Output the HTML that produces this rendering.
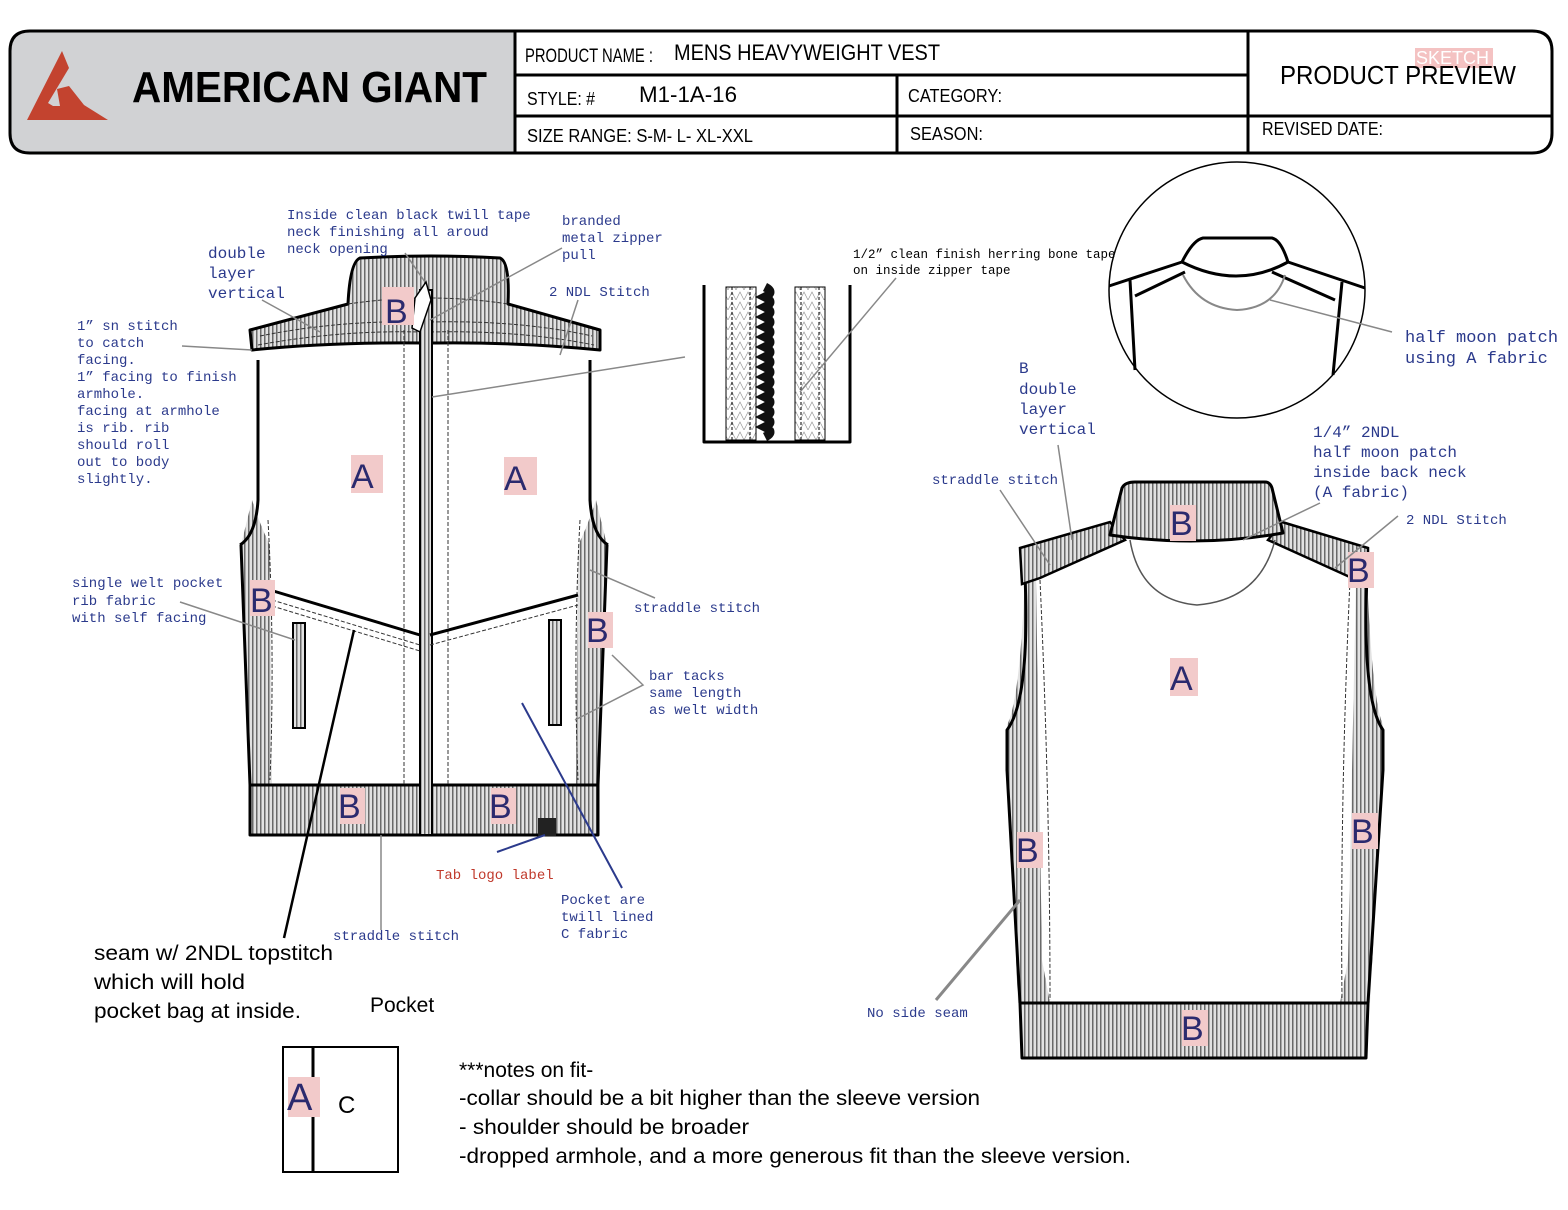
<!DOCTYPE html><html><head><style>
body{margin:0;background:#fff;width:1568px;height:1210px;overflow:hidden}
svg{display:block}
.m{font-family:"Liberation Mono",monospace;fill:#2b3a8c}
.s{font-family:"Liberation Sans",sans-serif;fill:#000}
.L{font-family:"Liberation Sans",sans-serif;fill:#2b2a6e;font-size:34px}
.lb{fill:#f2caca}
.o{stroke:#000;stroke-width:3;stroke-linejoin:round}
.d{fill:none;stroke:#333;stroke-width:1;stroke-dasharray:4 2}
.g{stroke:#888;stroke-width:1.5;fill:none}
</style></head><body>
<svg width="1568" height="1210" viewBox="0 0 1568 1210" font-size="14">
<defs>
<pattern id="r" width="4" height="10" patternUnits="userSpaceOnUse"><rect width="4" height="10" fill="#e2e2e2"/><rect width="1.5" height="10" fill="#6a6a6a"/></pattern>
<pattern id="h" width="8" height="10" patternUnits="userSpaceOnUse"><path d="M0 10 L4 2 L8 10" fill="none" stroke="#999" stroke-width="0.7"/></pattern>
</defs>
<!-- header -->
<path d="M515 31 H30 Q10 31 10 51 V133 Q10 153 30 153 H515 Z" fill="#d1d2d4"/>
<path d="M30 31 H1532 Q1552 31 1552 51 V133 Q1552 153 1532 153 H30 Q10 153 10 133 V51 Q10 31 30 31 Z" fill="none" stroke="#000" stroke-width="3"/>
<path d="M515 31V153 M515 75H1248 M515 116H1552 M897 75V153 M1248 31V153" stroke="#000" stroke-width="3"/>
<polygon points="27,120 62,51 69,68 48,103 53,106 60,106 57,89 69,86 84,105 108,120" fill="#c3432f"/>
<text x="132" y="102" textLength="355" lengthAdjust="spacingAndGlyphs" style="font-family:'Liberation Sans',sans-serif;font-weight:bold;font-size:44px">AMERICAN GIANT</text>
<text class="s" x="525" y="62" font-size="19" textLength="128" lengthAdjust="spacingAndGlyphs">PRODUCT  NAME :</text>
<text class="s" x="674" y="60" font-size="22" textLength="266" lengthAdjust="spacingAndGlyphs">MENS HEAVYWEIGHT VEST</text>
<text class="s" x="527" y="105" font-size="18" textLength="68" lengthAdjust="spacingAndGlyphs">STYLE: #</text>
<text class="s" x="639" y="102" font-size="22" textLength="98" lengthAdjust="spacingAndGlyphs">M1-1A-16</text>
<text class="s" x="527" y="142" font-size="18" textLength="226" lengthAdjust="spacingAndGlyphs">SIZE RANGE: S-M- L- XL-XXL</text>
<text class="s" x="908" y="102" font-size="18" textLength="94" lengthAdjust="spacingAndGlyphs">CATEGORY:</text>
<text class="s" x="910" y="140" font-size="18" textLength="73" lengthAdjust="spacingAndGlyphs">SEASON:</text>
<rect x="1415" y="48" width="78" height="20" fill="#f4c2c2"/>
<text x="1416" y="64" font-size="18" fill="#fff" font-family="Liberation Sans">SKETCH</text>
<text class="s" x="1280" y="84" font-size="26" textLength="236" lengthAdjust="spacingAndGlyphs">PRODUCT PREVIEW</text>
<text class="s" x="1262" y="135" font-size="18" textLength="121" lengthAdjust="spacingAndGlyphs">REVISED DATE:</text>

<!-- front vest -->
<g>
<path d="M252 500 Q262 530 270 545 L272 785 L250 785 L241 545 Z" fill="url(#r)"/>
<path d="M596 500 Q586 530 578 545 L576 785 L598 785 L607 545 Z" fill="url(#r)"/>
<path d="M240 545 Q256 535 258 500 L258 360 M608 545 Q592 535 590 500 L590 360" class="o" fill="none" stroke-width="2.5"/>
<path d="M241 545 L250 785 M607 545 L598 785" class="o" fill="none"/>
<path d="M268 520 Q275 650 270 780 M580 520 Q573 650 578 780" class="d"/>
<path d="M250 330 L348 304 Q350 262 360 258 Q430 254 500 258 Q510 262 508 304 L600 330 L600 350 Q520 342 435 343 L424 343 Q330 342 252 350 Z" fill="url(#r)" class="o"/>
<path d="M348 304 Q430 292 508 304" class="d"/>
<path d="M260 336 Q340 320 420 322 M430 322 Q520 320 592 336" class="d"/>
<path d="M258 345 Q340 330 420 332 M430 332 Q520 330 594 345" class="d"/>
<path d="M250 785 H598 V835 H250 Z" fill="url(#r)" class="o"/>
<rect x="420" y="290" width="12" height="545" fill="url(#r)" stroke="#000" stroke-width="2"/>
<path d="M404 330 V785 M448 330 V785" class="d"/>
<path d="M270 590 L420 635 M430 635 L578 595" class="o" fill="none" stroke-width="3"/>
<path d="M272 600 L420 645 M430 645 L578 605 M272 606 L420 651" class="d"/>
<rect x="293" y="623" width="12" height="105" fill="url(#r)" stroke="#000" stroke-width="2"/>
<rect x="549" y="620" width="12" height="105" fill="url(#r)" stroke="#000" stroke-width="2"/>
<polygon points="415,298 426,282 431,300 420,332 412,328" fill="#fff" stroke="#000" stroke-width="1.5"/>
<rect x="538" y="818" width="18" height="18" fill="#222"/>
</g>
<rect class="lb" x="382" y="287" width="32" height="38"/><text class="L" x="385" y="323">B</text>
<rect class="lb" x="351" y="455" width="32" height="38"/><text class="L" x="351" y="488">A</text>
<rect class="lb" x="504" y="457" width="33" height="38"/><text class="L" x="504" y="490">A</text>
<rect class="lb" x="250" y="580" width="25" height="36"/><text class="L" x="250" y="612">B</text>
<rect class="lb" x="588" y="612" width="25" height="36"/><text class="L" x="586" y="642">B</text>
<rect class="lb" x="340" y="788" width="25" height="36"/><text class="L" x="338" y="818">B</text>
<rect class="lb" x="491" y="788" width="25" height="36"/><text class="L" x="489" y="818">B</text>

<!-- front labels -->
<text class="m" x="287" y="219">Inside clean black twill tape</text>
<text class="m" x="287" y="236">neck finishing all aroud</text>
<text class="m" x="287" y="253">neck opening</text>
<text class="m" x="562" y="225">branded</text><text class="m" x="562" y="242">metal zipper</text><text class="m" x="562" y="259">pull</text>
<text class="m" x="208" y="258" font-size="16">double</text><text class="m" x="208" y="278" font-size="16">layer</text><text class="m" x="208" y="298" font-size="16">vertical</text>
<text class="m" x="549" y="296">2 NDL Stitch</text>
<g class="m"><text x="77" y="330">1” sn stitch</text><text x="77" y="347">to catch</text><text x="77" y="364">facing.</text><text x="77" y="381">1” facing to finish</text><text x="77" y="398">armhole.</text><text x="77" y="415">facing at armhole</text><text x="77" y="432">is rib. rib</text><text x="77" y="449">should roll</text><text x="77" y="466">out to body</text><text x="77" y="483">slightly.</text>
<text x="72" y="587">single welt pocket</text><text x="72" y="605">rib fabric</text><text x="72" y="622">with self facing</text>
<text x="634" y="612">straddle stitch</text>
<text x="649" y="680">bar tacks</text><text x="649" y="697">same length</text><text x="649" y="714">as welt width</text>
<text x="561" y="904">Pocket are</text><text x="561" y="921">twill lined</text><text x="561" y="938">C fabric</text>
<text x="333" y="940">straddle stitch</text>
<text x="436" y="879" fill="#c0392b">Tab logo label</text></g>
<path d="M405 253 L425 282 M562 248 L430 320 M262 300 L320 332 M182 346 L252 350 M578 300 L560 355 M685 357 L432 397 M180 602 L295 640 M655 598 L590 570 M612 655 L643 685 L575 720 M381 835 V930" class="g"/>
<path d="M522 703 L622 888 M497 852 L545 835" stroke="#2b3a8c" stroke-width="2" fill="none"/>
<path d="M354 630 L284 938" stroke="#000" stroke-width="2.5"/>
<text class="s" x="94" y="960" font-size="21" textLength="239" lengthAdjust="spacingAndGlyphs">seam w/ 2NDL topstitch</text>
<text class="s" x="94" y="989" font-size="21" textLength="151" lengthAdjust="spacingAndGlyphs">which will hold</text>
<text class="s" x="94" y="1018" font-size="21" textLength="207" lengthAdjust="spacingAndGlyphs">pocket bag at inside.</text>
<text class="s" x="370" y="1012" font-size="21">Pocket</text>

<!-- zipper detail -->
<g stroke="#000" stroke-width="1">
<rect x="726" y="287" width="30" height="153" fill="url(#h)"/>
<rect x="795" y="287" width="30" height="153" fill="url(#h)"/>
<path d="M732 287V440M750 287V440M801 287V440M819 287V440" stroke-dasharray="3 2" fill="none"/>
<path d="M765 287 q10 5 0 10 q10 5 0 10 q10 5 0 10 q10 5 0 10 q10 5 0 10 q10 5 0 10 q10 5 0 10 q10 5 0 10 q10 5 0 10 q10 5 0 10 q10 5 0 10 q10 5 0 10 q10 5 0 10 q10 5 0 10 q10 5 0 10" stroke="#111" stroke-width="9" fill="none"/>
</g>
<path d="M704 285 V442 H850 V285" class="o" fill="none"/>
<path d="M896 278 L800 392" class="g"/>

<!-- circle detail -->
<circle cx="1237" cy="290" r="128" fill="#fff" stroke="#000" stroke-width="1.5"/>
<path d="M1109 286 L1182 262 Q1193 240 1203 238 H1272 Q1281 240 1288 262 L1365 288" class="o" fill="none" stroke-width="2.5"/>
<path d="M1182 262 Q1237 290 1288 262" class="o" fill="none" stroke-width="2"/>
<path d="M1185 272 L1135 296 M1272 272 L1335 300 M1130 280 L1135 370 M1342 282 L1333 375" class="o" fill="none" stroke-width="2.5"/>
<path d="M1183 275 Q1200 308 1237 310 Q1275 308 1285 275" fill="none" stroke="#888" stroke-width="2"/>
<path d="M1270 300 L1392 332" class="g"/>
<text class="m" x="853" y="258" font-size="12.5" style="fill:#000">1/2” clean finish herring bone tape</text>
<text class="m" x="853" y="274" font-size="12.5" style="fill:#000">on inside zipper tape</text>
<text class="m" x="1405" y="342" font-size="17">half moon patch</text>
<text class="m" x="1405" y="363" font-size="17">using A fabric</text>

<!-- back vest -->
<g>
<path d="M1025 575 Q1020 700 1007 725 V760 L1018 1003 H1050 L1042 960 L1036 580 Z" fill="url(#r)"/>
<path d="M1367 575 Q1372 700 1383 725 V760 L1370 1003 H1340 L1348 960 L1356 580 Z" fill="url(#r)"/>
<path d="M1025 575 Q1030 700 1007 730 V770 L1020 1003 M1367 575 Q1362 700 1383 730 V770 L1368 1003" class="o" fill="none"/>
<path d="M1020 548 L1110 522 L1125 540 L1040 578 L1022 584 Z M1368 548 L1282 522 L1268 540 L1352 578 L1368 584 Z" fill="url(#r)" stroke="#000" stroke-width="2.5"/>
<path d="M1110 535 L1122 488 Q1125 482 1135 482 H1265 Q1270 482 1272 488 L1283 533 Q1197 548 1110 535 Z" fill="url(#r)" class="o"/>
<path d="M1130 540 Q1140 600 1197 605 Q1260 600 1275 540" fill="none" stroke="#555" stroke-width="1.5"/>
<path d="M1020 1003 H1368 L1366 1058 H1022 Z" fill="url(#r)" class="o"/>
<path d="M1040 580 Q1050 800 1050 1000 M1350 580 Q1340 800 1342 1000" class="d"/>
</g>
<rect class="lb" x="1170" y="505" width="26" height="36"/><text class="L" x="1170" y="535">B</text>
<rect class="lb" x="1170" y="658" width="28" height="38"/><text class="L" x="1170" y="690">A</text>
<rect class="lb" x="1348" y="552" width="26" height="36"/><text class="L" x="1347" y="582">B</text>
<rect class="lb" x="1017" y="832" width="26" height="36"/><text class="L" x="1016" y="862">B</text>
<rect class="lb" x="1352" y="813" width="26" height="36"/><text class="L" x="1351" y="843">B</text>
<rect class="lb" x="1182" y="1010" width="26" height="36"/><text class="L" x="1181" y="1040">B</text>
<text class="m" x="1019" y="373" font-size="16">B</text><text class="m" x="1019" y="394" font-size="16">double</text><text class="m" x="1019" y="414" font-size="16">layer</text><text class="m" x="1019" y="434" font-size="16">vertical</text>
<text class="m" x="932" y="484">straddle stitch</text>
<text class="m" x="1313" y="437" font-size="16">1/4” 2NDL</text><text class="m" x="1313" y="457" font-size="16">half moon patch</text><text class="m" x="1313" y="477" font-size="16">inside back neck</text><text class="m" x="1313" y="497" font-size="16">(A fabric)</text>
<text class="m" x="1406" y="524">2 NDL Stitch</text>
<text class="m" x="867" y="1017">No side seam</text>
<path d="M1000 490 L1050 565 M1058 445 L1072 540 M1320 503 L1243 540 M1398 516 L1335 568" class="g"/>
<path d="M936 1000 L1020 900" stroke="#888" stroke-width="3"/>

<!-- pocket -->
<rect x="283" y="1047" width="115" height="125" fill="none" stroke="#000" stroke-width="2"/>
<line x1="313" y1="1047" x2="313" y2="1172" stroke="#000" stroke-width="3"/>
<rect class="lb" x="288" y="1077" width="32" height="40"/><text class="L" x="287" y="1110" style="font-size:38px">A</text>
<text class="s" x="338" y="1113" font-size="24">C</text>
<g class="s" font-size="21"><text x="459" y="1077">***notes on fit-</text><text x="459" y="1105" textLength="521" lengthAdjust="spacingAndGlyphs">-collar should be a bit higher than the sleeve version</text><text x="459" y="1134" textLength="290" lengthAdjust="spacingAndGlyphs">- shoulder should be broader</text><text x="459" y="1163" textLength="672" lengthAdjust="spacingAndGlyphs">-dropped armhole, and a more generous fit than the sleeve version.</text></g>
</svg>
</body></html>
